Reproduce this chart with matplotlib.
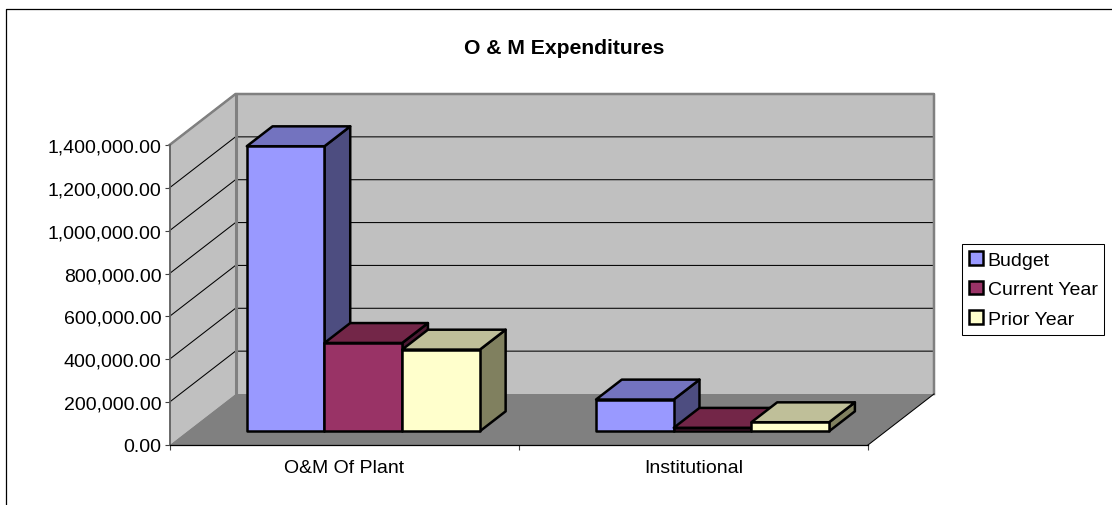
from matplotlib import pyplot as plt
from matplotlib.lines import Line2D
from matplotlib.patches import Patch
from matplotlib.ticker import FuncFormatter
import numpy as np

categories = ["O&M Of Plant", "Institutional"]
series_names = ["Budget", "Current Year", "Prior Year"]
budget = [1330000, 148000]
current_year = [412000, 16000]
prior_year = [381000, 42000]
y_ticks = [0, 200000, 400000, 600000, 800000, 1000000, 1200000, 1400000]

colors = ["#9999FF", "#993366", "#FFFFCC"]
top_colors = ["#7373BF", "#732648", "#BFBF99"]
side_colors = ["#4D4D80", "#4D1A33", "#80805F"]

W, H = 1112, 506
plt.rcParams['font.family'] = ['Liberation Sans', 'DejaVu Sans']
plt.rcParams['font.size'] = 14

fig = plt.figure(figsize=(W/100, H/100), dpi=100)
# front plane of the fake 3d box, in pixels
left, right, top, bottom = 169.5, 868, 146, 446
ax = fig.add_axes([left/W, 1-bottom/H, (right-left)/W, (bottom-top)/H])
ax.set_xlim(0, len(categories))
ax.set_ylim(0, y_ticks[-1])

# depth offset of the back wall, in data units
dx = 66 / (right-left) * len(categories)
dy = 51 / (bottom-top) * y_ticks[-1]
ymax = y_ticks[-1]
n = len(categories)

# back wall, side wall, floor
ax.fill([dx, n+dx, n+dx, dx], [dy, dy, ymax+dy, ymax+dy], color="#C0C0C0", clip_on=False, zorder=1, lw=0)
ax.fill([0, dx, dx, 0], [0, dy, ymax+dy, ymax], color="#C0C0C0", clip_on=False, zorder=1, lw=0)
ax.fill([0, n, n+dx, dx], [0, 0, dy, dy], color="#808080", clip_on=False, zorder=1, lw=0)

for v in y_ticks[1:-1] + [ymax]:
    ax.plot([0, dx, n+dx], [v, v+dy, v+dy], color="black", lw=0.75, clip_on=False, zorder=2)

# wall outline
ax.plot([0, dx, n+dx, n+dx], [ymax, ymax+dy, ymax+dy, dy], color="#808080", lw=1.8, clip_on=False, zorder=3)
ax.plot([dx, dx], [dy, ymax+dy], color="#808080", lw=2.2, clip_on=False, zorder=3)
ax.plot([0, 0], [0, ymax], color="#606060", lw=1.3, clip_on=False, zorder=3)
ax.plot([n, n+dx], [0, dy], color="black", lw=0.75, clip_on=False, zorder=3)

# bars sit partly into the depth of the floor
bar_w = 77.7 / (right-left) * n
gap = (1 - 3*bar_w) / 2 + 0.004
d0, d1 = 0.27, 0.66
z = 4
for c in range(n):
    for s, vals in enumerate([budget, current_year, prior_year]):
        x0 = c + gap + s*bar_w + d0*dx
        x1 = x0 + bar_w
        y0 = d0*dy
        y1 = y0 + vals[c]
        ox = (d1-d0)*dx
        oy = (d1-d0)*dy
        ax.fill([x1, x1+ox, x1+ox, x1], [y0, y0+oy, y1+oy, y1], facecolor=side_colors[s], edgecolor="black", lw=1.8, clip_on=False, zorder=z, joinstyle="round")
        ax.fill([x0, x1, x1+ox, x0+ox], [y1, y1, y1+oy, y1+oy], facecolor=top_colors[s], edgecolor="black", lw=1.8, clip_on=False, zorder=z, joinstyle="round")
        ax.fill([x0, x1, x1, x0], [y0, y0, y1, y1], facecolor=colors[s], edgecolor="black", lw=1.8, clip_on=False, zorder=z, joinstyle="round")
        z += 1

for side in ["top", "right", "left"]:
    ax.spines[side].set_visible(False)
ax.spines["bottom"].set_linewidth(0.9)
ax.spines["bottom"].set_zorder(3)

ax.set_yticks(y_ticks)
ax.yaxis.set_major_formatter(FuncFormatter(lambda v, p: f"{v:,.2f}"))
ax.tick_params(axis="y", length=3.6, width=0.8, pad=2, color="#404040")
ax.set_xticks(np.arange(n+1))
ax.set_xticklabels([])
ax.set_xticks(np.arange(n)+0.5, categories, minor=True)
ax.tick_params(axis="x", which="major", length=3.6, width=0.8, color="#404040")
ax.tick_params(axis="x", which="minor", length=0, pad=10)

fig.text(564/W, 1-48.5/H, "O & M Expenditures", fontweight="bold", fontsize=15.2, ha="center", va="center")

handles = [Patch(facecolor=colors[i], edgecolor="black", lw=1.8, label=series_names[i]) for i in range(3)]
fig.legend(handles=handles, loc="upper left", bbox_to_anchor=(962/W, 1-245/H), bbox_transform=fig.transFigure,
           fancybox=False, edgecolor="black", framealpha=1, borderaxespad=0, borderpad=0.35,
           handlelength=0.72, handleheight=0.72, handletextpad=0.25, labelspacing=0.62)
fig.legends[0].get_frame().set_linewidth(0.75)

# chart border, only left and top show in the crop
fig.add_artist(Line2D([5.5/W, 5.5/W, 1], [0, 1-9.5/H, 1-9.5/H], color="black", lw=0.9))

plt.savefig("out.png", dpi=100)
